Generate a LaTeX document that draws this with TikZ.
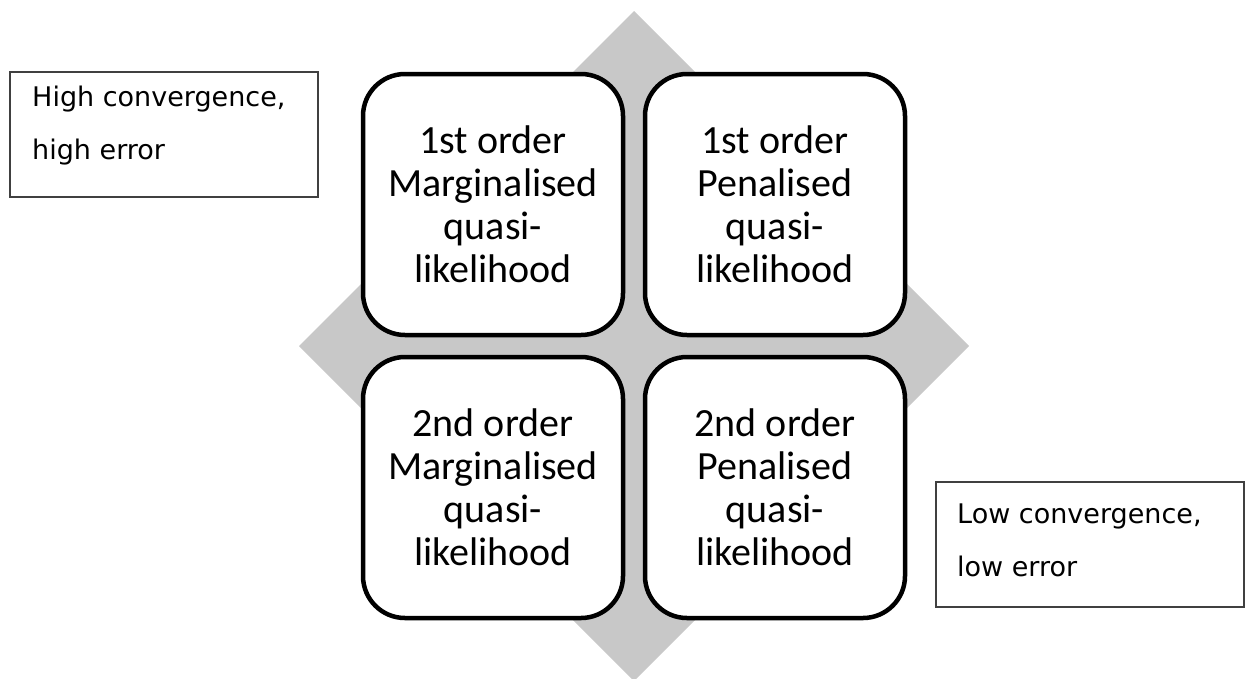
\documentclass[tikz,border=0pt]{standalone}
\usepackage{fontspec}
\setmainfont{Carlito}
\newfontfamily\labelfont{DejaVu Sans}
\definecolor{diamondgray}{RGB}{200,200,200}
\begin{document}
\begin{tikzpicture}[x=1pt,y=-1pt,
  quad/.style={draw=black, line width=4.5pt, rounded corners=42pt, fill=white,
    minimum width=260pt, minimum height=261pt, inner sep=0pt, align=center,
    font=\fontsize{40}{43}\selectfont},
  labelbox/.style={draw=black!75, line width=1.3pt, minimum width=308pt,
    minimum height=125pt, inner sep=0pt},
  labeltext/.style={align=left, inner sep=0pt,
    font=\labelfont\fontsize{27}{53}\selectfont}]
\useasboundingbox (0,0) rectangle (1246,678);
\fill[diamondgray] (634,11) -- (969,346) -- (634,681) -- (299,346) -- cycle;
\node[quad] (tl) at (493,204.5) {1st order\\Marginalised\\quasi-\\likelihood};
\node[quad] (tr) at (775,204.5) {1st order\\Penalised\\quasi-\\likelihood};
\node[quad] (bl) at (493,487.5) {2nd order\\Marginalised\\quasi-\\likelihood};
\node[quad] (br) at (775,487.5) {2nd order\\Penalised\\quasi-\\likelihood};
\node[labelbox] (hi) at (164,134.5) {};
\node[labeltext, anchor=base west] (hit) at (32,159) {High convergence,\\high error};
\node[labelbox] (lo) at (1090,544.5) {};
\node[labeltext, anchor=base west] (lot) at (957,576) {Low convergence,\\low error};
\end{tikzpicture}
\end{document}
